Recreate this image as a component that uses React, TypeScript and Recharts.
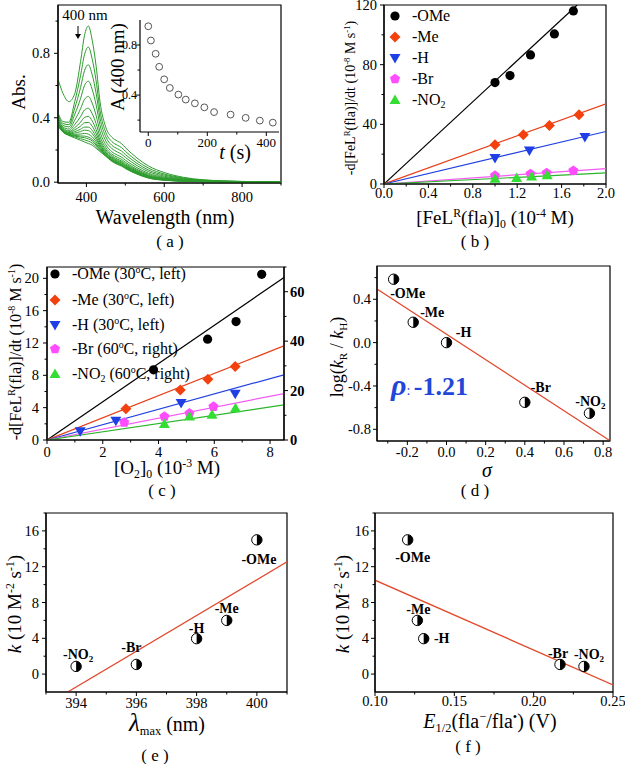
import React from 'react';
import { ComposedChart, Line, Scatter, XAxis, YAxis, ReferenceArea } from 'recharts';

const FONT = '"Liberation Serif", "Times New Roman", Times, serif';
const PAGE_W = 625;
const PAGE_H = 764;
const BAND = 20;
const TICK_FS = 14.5;

// ---------------- (a) spectra ----------------
const wavelengths = [327, 340, 355, 370, 385, 395, 405, 415, 425, 435, 450, 465, 480, 490, 500, 530, 560, 600, 650, 700, 800, 900];
const spec01 = [0.64, 0.55, 0.5, 0.55, 0.75, 0.91, 0.97, 0.88, 0.72, 0.5, 0.34, 0.28, 0.255, 0.24, 0.215, 0.15, 0.1, 0.06, 0.03, 0.015, 0.005, 0];
const spec02 = [0.432, 0.376, 0.372, 0.5, 0.662, 0.791, 0.839, 0.763, 0.628, 0.444, 0.308, 0.253, 0.229, 0.215, 0.192, 0.132, 0.087, 0.051, 0.026, 0.013, 0.004, 0];
const spec03 = [0.417, 0.364, 0.357, 0.459, 0.588, 0.692, 0.729, 0.666, 0.552, 0.398, 0.281, 0.23, 0.207, 0.194, 0.172, 0.117, 0.075, 0.044, 0.022, 0.011, 0.004, 0];
const spec04 = [0.403, 0.352, 0.343, 0.421, 0.52, 0.6, 0.627, 0.575, 0.48, 0.354, 0.255, 0.21, 0.187, 0.174, 0.154, 0.103, 0.065, 0.037, 0.019, 0.009, 0.003, 0];
const spec05 = [0.39, 0.342, 0.33, 0.385, 0.456, 0.514, 0.532, 0.49, 0.414, 0.314, 0.232, 0.19, 0.168, 0.156, 0.137, 0.09, 0.055, 0.031, 0.016, 0.008, 0.003, 0];
const spec06 = [0.38, 0.334, 0.32, 0.358, 0.407, 0.448, 0.459, 0.425, 0.363, 0.283, 0.214, 0.175, 0.154, 0.142, 0.124, 0.08, 0.048, 0.026, 0.013, 0.007, 0.002, 0];
const spec07 = [0.373, 0.328, 0.313, 0.338, 0.373, 0.402, 0.408, 0.38, 0.327, 0.261, 0.201, 0.165, 0.143, 0.132, 0.115, 0.073, 0.042, 0.023, 0.012, 0.006, 0.002, 0];
const spec08 = [0.368, 0.324, 0.308, 0.325, 0.348, 0.369, 0.371, 0.347, 0.302, 0.246, 0.192, 0.157, 0.136, 0.125, 0.108, 0.068, 0.039, 0.021, 0.01, 0.005, 0.002, 0];
const spec09 = [0.364, 0.321, 0.304, 0.314, 0.329, 0.342, 0.342, 0.321, 0.281, 0.233, 0.185, 0.151, 0.13, 0.12, 0.103, 0.064, 0.036, 0.019, 0.009, 0.005, 0.001, 0];
const spec10 = [0.361, 0.319, 0.301, 0.305, 0.314, 0.323, 0.32, 0.302, 0.266, 0.224, 0.18, 0.147, 0.126, 0.115, 0.099, 0.061, 0.033, 0.017, 0.009, 0.004, 0.001, 0];
const spec11 = [0.358, 0.316, 0.298, 0.297, 0.299, 0.303, 0.298, 0.282, 0.251, 0.215, 0.174, 0.142, 0.122, 0.111, 0.095, 0.058, 0.031, 0.016, 0.008, 0.004, 0.001, 0];
const spec12 = [0.356, 0.314, 0.296, 0.29, 0.287, 0.286, 0.28, 0.266, 0.238, 0.207, 0.17, 0.138, 0.118, 0.108, 0.092, 0.056, 0.029, 0.015, 0.007, 0.004, 0.001, 0];
const spec13 = [0.354, 0.313, 0.294, 0.286, 0.28, 0.276, 0.269, 0.256, 0.23, 0.202, 0.167, 0.136, 0.116, 0.106, 0.09, 0.054, 0.028, 0.014, 0.007, 0.003, 0.001, 0];
const spec14 = [0.352, 0.312, 0.292, 0.281, 0.27, 0.263, 0.255, 0.243, 0.22, 0.196, 0.164, 0.133, 0.113, 0.103, 0.088, 0.052, 0.027, 0.013, 0.006, 0.003, 0.001, 0];
const spec15 = [0.35, 0.31, 0.29, 0.275, 0.26, 0.25, 0.24, 0.23, 0.21, 0.19, 0.16, 0.13, 0.11, 0.1, 0.085, 0.05, 0.025, 0.012, 0.006, 0.003, 0.001, 0];
const spectra = [spec01, spec02, spec03, spec04, spec05, spec06, spec07, spec08, spec09, spec10, spec11, spec12, spec13, spec14, spec15];

const insetTime = [0, 9, 25, 37, 54, 73, 102, 127, 158, 190, 223, 279, 330, 378, 422];
const insetAbs = [0.95, 0.836, 0.73, 0.626, 0.526, 0.457, 0.404, 0.364, 0.334, 0.302, 0.264, 0.244, 0.218, 0.196, 0.18];

// ---------------- (b) ----------------
const bConcOMe = [1.0, 1.135, 1.32, 1.535, 1.706];
const bRateOMe = [68, 72.7, 86.5, 100.6, 116];
const bConcMe = [1.0, 1.255, 1.49, 1.757];
const bRateMe = [26.3, 33, 39.3, 46.4];
const bConcH = [1.0, 1.31, 1.81];
const bRateH = [17.4, 22.5, 31.5];
const bConcBr = [1.0, 1.32, 1.465, 1.706];
const bRateBr = [5.6, 6.7, 7.4, 8.9];
const bConcNO2 = [1.0, 1.195, 1.33, 1.47];
const bRateNO2 = [3.6, 4.0, 5.1, 5.8];
const bFitX = [[0, 1.74], [0, 2], [0, 2], [0, 2], [0, 2]];
const bFitY = [[0, 120], [0, 53.8], [0, 35.2], [0, 10.3], [0, 7.4]];

// ---------------- (c) ----------------
const cO2OMe = [3.82, 5.76, 6.78, 7.7];
const cRateOMe = [8.68, 12.47, 14.65, 20.5];
const cO2Me = [2.83, 4.78, 5.77, 6.75];
const cRateMe = [3.87, 6.2, 7.5, 9.1];
const cO2H = [1.19, 2.47, 4.81, 6.75];
const cRateH = [1.07, 2.39, 4.57, 5.72];
const cO2Br = [2.77, 4.21, 5.11, 5.97];
const cRateBr = [7.1, 9.5, 10.8, 13.5];
const cO2NO2 = [4.21, 5.11, 5.92, 6.76];
const cRateNO2 = [6.5, 9.5, 10.2, 12.8];
const cFitX = [[0, 8.5], [0, 8.5], [0, 8.5], [0, 8.5], [0, 8.5]];
const cFitY = [[0, 20.1], [0, 11.65], [0, 8.07], [0, 18.8], [0, 14.2]];

// ---------------- (d) (e) (f) ----------------
const substituents = ['-OMe', '-Me', '-H', '-Br', '-NO2'];
const sigma = [-0.27, -0.17, 0.0, 0.4, 0.73];
const logRatio = [0.585, 0.188, 0.0, -0.551, -0.652];
const dFitX = [-0.355, 0.835];
const dFitY = [0.495, -0.905];
const lambdaMax = [400, 399, 398, 396, 394];
const kValues = [15.0, 6.0, 3.96, 1.08, 0.86];
const eFitX = [393.72, 401];
const eFitY = [-2, 12.54];
const eHalf = [0.1206, 0.1267, 0.1307, 0.2166, 0.2317];
const fFitX = [0.1, 0.25];
const fFitY = [10.49, -1.2];

// ---------------- helpers ----------------
const pts = (xs: number[], ys: number[], names?: string[]) =>
  xs.map((x, i) => ({ x, y: ys[i], name: names ? names[i] : '' }));

type Box = { l: number; r: number; t: number; b: number };
const marginFor = (box: Box, rightAxis = false) => ({
  top: box.t,
  left: box.l - BAND,
  right: PAGE_W - box.r - (rightAxis ? BAND : 0),
  bottom: PAGE_H - box.b - BAND,
});

const near = (a: number, b: number) => Math.abs(a - b) < 1e-9;

function makeTick(side: 'bottom' | 'left' | 'right', majors: number[], fmt: (v: number) => string, gap: number, fs = TICK_FS, bold = false) {
  return (props: any) => {
    const { x, y, payload } = props;
    const v = Number(payload.value);
    const major = majors.some((m) => near(m, v));
    const len = major ? 4 : 2.5;
    const common = { fontSize: fs, fontFamily: FONT, fill: '#000', fontWeight: bold ? 'bold' : 'normal' } as any;
    if (side === 'bottom') {
      return (
        <g>
          <line x1={x} y1={y} x2={x} y2={y + len} stroke="#000" strokeWidth={1} />
          {major && (
            <text x={x} y={y + gap} textAnchor="middle" {...common}>
              {fmt(v)}
            </text>
          )}
        </g>
      );
    }
    if (side === 'left') {
      return (
        <g>
          <line x1={x} y1={y} x2={x - len} y2={y} stroke="#000" strokeWidth={1} />
          {major && (
            <text x={x - gap} y={y + fs * 0.35} textAnchor="end" {...common}>
              {fmt(v)}
            </text>
          )}
        </g>
      );
    }
    return (
      <g>
        <line x1={x} y1={y} x2={x + len} y2={y} stroke="#000" strokeWidth={1} />
        {major && (
          <text x={x + gap} y={y + fs * 0.35} textAnchor="start" {...common}>
            {fmt(v)}
          </text>
        )}
      </g>
    );
  };
}

const f1 = (v: number) => (near(v, 0) ? '0.0' : v.toFixed(1));
const f2 = (v: number) => v.toFixed(2);
const f0 = (v: number) => String(Math.round(v));

type Kind = 'circle' | 'diamond' | 'down' | 'up' | 'pent';
function Marker({ kind, cx, cy, color }: { kind: Kind; cx: number; cy: number; color: string }) {
  if (kind === 'circle') return <circle cx={cx} cy={cy} r={4.6} fill={color} />;
  if (kind === 'diamond')
    return <polygon points={`${cx},${cy - 5.5} ${cx + 5.5},${cy} ${cx},${cy + 5.5} ${cx - 5.5},${cy}`} fill={color} />;
  if (kind === 'down')
    return <polygon points={`${cx - 5.5},${cy - 4} ${cx + 5.5},${cy - 4} ${cx},${cy + 5.5}`} fill={color} />;
  if (kind === 'up')
    return <polygon points={`${cx - 5.5},${cy + 4} ${cx + 5.5},${cy + 4} ${cx},${cy - 5.5}`} fill={color} />;
  const p: string[] = [];
  for (let i = 0; i < 5; i++) {
    const a = -Math.PI / 2 + (i * 2 * Math.PI) / 5;
    p.push(`${cx + 5.3 * Math.cos(a)},${cy + 5.3 * Math.sin(a)}`);
  }
  return <polygon points={p.join(' ')} fill={color} />;
}

const seriesKinds: Kind[] = ['circle', 'diamond', 'down', 'pent', 'up'];
const markerColors = ['#000000', '#f2400f', '#1f3fe6', '#ff4cff', '#33dd33'];
const lineColors = ['#000000', '#e8401a', '#2040e0', '#f25af2', '#2ab52a'];
const FIT_RED = '#e24a2e';

const markerShape = (kind: Kind, color: string) => (p: any) => <Marker kind={kind} cx={p.cx} cy={p.cy} color={color} />;

const openCircle = (p: any) => <circle cx={p.cx} cy={p.cy} r={3.4} fill="none" stroke="#555" strokeWidth={1} />;

function labelText(name: string, x: number, y: number) {
  const isNO2 = name === '-NO2';
  return (
    <text x={x} y={y + 5} textAnchor="middle" fontFamily={FONT} fontWeight="bold" fontSize={14} fill="#000">
      {isNO2 ? '-NO' : name}
      {isNO2 && (
        <tspan dy={3} fontSize={9}>
          2
        </tspan>
      )}
    </text>
  );
}

const halfShape = (offsets: Record<string, [number, number]>) => (p: any) => {
  const { cx, cy, payload } = p;
  const name = payload && payload.name;
  const off = offsets[name] || [0, 0];
  const r = 5.2;
  return (
    <g>
      <circle cx={cx} cy={cy} r={r} fill="#fff" stroke="#000" strokeWidth={1} />
      <path d={`M ${cx} ${cy - r} A ${r} ${r} 0 0 1 ${cx} ${cy + r} Z`} fill="#000" />
      {labelText(name, cx + off[0], cy + off[1])}
    </g>
  );
};

const dOffsets: Record<string, [number, number]> = {
  '-OMe': [14, 14], '-Me': [19, -10], '-H': [17, -11], '-Br': [16, -15], '-NO2': [1, -12],
};
const eOffsets: Record<string, [number, number]> = {
  '-OMe': [2, 19], '-Me': [0, -12], '-H': [0, -11], '-Br': [-5, -17], '-NO2': [2, -12],
};
const fOffsets: Record<string, [number, number]> = {
  '-OMe': [5, 17], '-Me': [1, -11], '-H': [18, -1], '-Br': [-2, -11], '-NO2': [5, -12],
};

const Sup = ({ children }: any) => (
  <span style={{ fontSize: '0.62em', position: 'relative', top: '-0.6em' }}>{children}</span>
);
const Sub = ({ children }: any) => (
  <span style={{ fontSize: '0.62em', position: 'relative', top: '0.35em' }}>{children}</span>
);

function T({ x, y, size = 15, rot = false, style, children }: any) {
  return (
    <div
      style={{
        position: 'absolute',
        left: x,
        top: y,
        transform: `translate(-50%, -50%)${rot ? ' rotate(-90deg)' : ''}`,
        fontSize: size,
        whiteSpace: 'nowrap',
        lineHeight: 1,
        fontFamily: FONT,
        color: '#000',
        ...style,
      }}
    >
      {children}
    </div>
  );
}

const Layer = ({ children }: any) => <div style={{ position: 'absolute', left: 0, top: 0 }}>{children}</div>;

const AXIS_LINE = { stroke: '#000', strokeWidth: 1.2 };

// boxes
const boxA: Box = { l: 58, r: 281, t: 5, b: 183 };
const boxInset: Box = { l: 140, r: 279, t: 20, b: 132 };
const boxB: Box = { l: 384, r: 606, t: 5, b: 184 };
const boxC: Box = { l: 47, r: 284, t: 267, b: 440 };
const boxD: Box = { l: 377, r: 610, t: 266, b: 441 };
const boxE: Box = { l: 46, r: 287, t: 513, b: 692 };
const boxF: Box = { l: 375, r: 613, t: 513, b: 692 };

const legendB = ['-OMe', '-Me', '-H', '-Br', '-NO2'];
const legendBRows = [16, 37, 58, 79, 100];

function LegendRow({ x, y, kind, color, children }: any) {
  return (
    <div style={{ position: 'absolute', left: x - 8, top: y - 10, height: 20, display: 'flex', alignItems: 'center', fontFamily: FONT, fontSize: 16, whiteSpace: 'nowrap' }}>
      <svg width={16} height={16} style={{ display: 'block' }}>
        <Marker kind={kind} cx={8} cy={8} color={color} />
      </svg>
      <span style={{ marginLeft: 9 }}>{children}</span>
    </div>
  );
}

export default function App() {
  const specRows = wavelengths.map((w, i) => {
    const row: any = { x: w };
    spectra.forEach((s, k) => {
      row['s' + k] = s[i];
    });
    return row;
  });
  const insetPts = pts(insetTime, insetAbs);

  const bSeries = [
    pts(bConcOMe, bRateOMe), pts(bConcMe, bRateMe), pts(bConcH, bRateH), pts(bConcBr, bRateBr), pts(bConcNO2, bRateNO2),
  ];
  const cSeries = [
    pts(cO2OMe, cRateOMe), pts(cO2Me, cRateMe), pts(cO2H, cRateH), pts(cO2Br, cRateBr), pts(cO2NO2, cRateNO2),
  ];
  const dPts = pts(sigma, logRatio, substituents);
  const ePts = pts(lambdaMax, kValues, substituents);
  const fPts = pts(eHalf, kValues, substituents);

  return (
    <div style={{ position: 'absolute', left: 0, top: 0, width: PAGE_W, height: PAGE_H, background: '#fff', fontFamily: FONT, overflow: 'hidden' }}>
      {/* (a) main */}
      <Layer>
        <ComposedChart width={PAGE_W} height={PAGE_H} margin={marginFor(boxA)} data={specRows}>
          <XAxis type="number" dataKey="x" domain={[327, 900]} allowDataOverflow ticks={[400, 500, 600, 700, 800, 900]} interval={0}
            height={BAND} tickLine={false} tickSize={0} tickMargin={0} axisLine={AXIS_LINE}
            tick={makeTick('bottom', [400, 600, 800], f0, 19)} />
          <YAxis type="number" domain={[-0.005, 1.1]} allowDataOverflow ticks={[0, 0.2, 0.4, 0.6, 0.8, 1.0]} interval={0}
            width={BAND} tickLine={false} tickSize={0} tickMargin={0} axisLine={AXIS_LINE}
            tick={makeTick('left', [0, 0.4, 0.8], f1, 8)} />
          <ReferenceArea x1={327} x2={900} y1={-0.005} y2={1.1} fill="none" stroke="#000" strokeWidth={1.2} ifOverflow="visible" />
          {spectra.map((_, k) => (
            <Line key={k} type="monotone" dataKey={'s' + k} stroke="#2c9c2c" strokeWidth={1} dot={false} activeDot={false} isAnimationActive={false} />
          ))}
        </ComposedChart>
      </Layer>
      {/* (a) inset */}
      <Layer>
        <ComposedChart width={PAGE_W} height={PAGE_H} margin={marginFor(boxInset)}>
          <XAxis type="number" dataKey="x" domain={[-28, 443]} allowDataOverflow ticks={[0, 100, 200, 300, 400]} interval={0}
            height={BAND} tickLine={false} tickSize={0} tickMargin={0} axisLine={AXIS_LINE}
            tick={makeTick('bottom', [0, 200, 400], f0, 15, 13)} />
          <YAxis type="number" dataKey="y" domain={[0.105, 1.0]} allowDataOverflow ticks={[0.2, 0.4, 0.6, 0.8]} interval={0}
            width={BAND} tickLine={false} tickSize={0} tickMargin={0} axisLine={AXIS_LINE}
            tick={makeTick('left', [0.4, 0.8], f1, 3, 12)} />
          <Scatter data={insetPts} dataKey="y" shape={openCircle} isAnimationActive={false} />
        </ComposedChart>
      </Layer>

      {/* (b) */}
      <Layer>
        <ComposedChart width={PAGE_W} height={PAGE_H} margin={marginFor(boxB)}>
          <XAxis type="number" dataKey="x" domain={[0, 2]} allowDataOverflow ticks={[0, 0.2, 0.4, 0.6, 0.8, 1.0, 1.2, 1.4, 1.6, 1.8, 2.0]} interval={0}
            height={BAND} tickLine={false} tickSize={0} tickMargin={0} axisLine={AXIS_LINE}
            tick={makeTick('bottom', [0, 0.4, 0.8, 1.2, 1.6, 2.0], f1, 14)} />
          <YAxis type="number" dataKey="y" domain={[0, 120]} allowDataOverflow ticks={[0, 20, 40, 60, 80, 100, 120]} interval={0}
            width={BAND} tickLine={false} tickSize={0} tickMargin={0} axisLine={AXIS_LINE}
            tick={makeTick('left', [0, 40, 80, 120], f0, 7)} />
          <ReferenceArea x1={0} x2={2} y1={0} y2={120} fill="none" stroke="#000" strokeWidth={1.2} ifOverflow="visible" />
          {bFitX.map((fx, k) => (
            <Line key={'bf' + k} data={pts(fx, bFitY[k])} dataKey="y" stroke={lineColors[k]} strokeWidth={1.2} dot={false} activeDot={false} isAnimationActive={false} />
          ))}
          {bSeries.map((s, k) => (
            <Scatter key={'bs' + k} data={s} dataKey="y" shape={markerShape(seriesKinds[k], markerColors[k])} isAnimationActive={false} />
          ))}
        </ComposedChart>
      </Layer>

      {/* (c) */}
      <Layer>
        <ComposedChart width={PAGE_W} height={PAGE_H} margin={marginFor(boxC, true)}>
          <XAxis type="number" dataKey="x" domain={[0, 8.5]} allowDataOverflow ticks={[0, 1, 2, 3, 4, 5, 6, 7, 8]} interval={0}
            height={BAND} tickLine={false} tickSize={0} tickMargin={0} axisLine={AXIS_LINE}
            tick={makeTick('bottom', [0, 2, 4, 6, 8], f0, 17)} />
          <YAxis yAxisId="left" type="number" dataKey="y" domain={[0, 21.4]} allowDataOverflow ticks={[0, 2, 4, 6, 8, 10, 12, 14, 16, 18, 20]} interval={0}
            width={BAND} tickLine={false} tickSize={0} tickMargin={0} axisLine={AXIS_LINE}
            tick={makeTick('left', [0, 4, 8, 12, 16, 20], f0, 8)} />
          <YAxis yAxisId="right" orientation="right" type="number" dataKey="y" domain={[0, 70]} allowDataOverflow ticks={[0, 10, 20, 30, 40, 50, 60, 70]} interval={0}
            width={BAND} tickLine={false} tickSize={0} tickMargin={0} axisLine={AXIS_LINE}
            tick={makeTick('right', [0, 20, 40, 60], f0, 6, TICK_FS, true)} />
          <ReferenceArea yAxisId="left" x1={0} x2={8.5} y1={0} y2={21.4} fill="none" stroke="#000" strokeWidth={1.2} ifOverflow="visible" />
          {cFitX.map((fx, k) => (
            <Line key={'cf' + k} yAxisId={k >= 3 ? 'right' : 'left'} data={pts(fx, cFitY[k])} dataKey="y" stroke={lineColors[k]} strokeWidth={1.2} dot={false} activeDot={false} isAnimationActive={false} />
          ))}
          {cSeries.map((s, k) => (
            <Scatter key={'cs' + k} yAxisId={k >= 3 ? 'right' : 'left'} data={s} dataKey="y" shape={markerShape(seriesKinds[k], markerColors[k])} isAnimationActive={false} />
          ))}
        </ComposedChart>
      </Layer>

      {/* (d) */}
      <Layer>
        <ComposedChart width={PAGE_W} height={PAGE_H} margin={marginFor(boxD)}>
          <XAxis type="number" dataKey="x" domain={[-0.355, 0.835]} allowDataOverflow ticks={[-0.3, -0.2, -0.1, 0, 0.1, 0.2, 0.3, 0.4, 0.5, 0.6, 0.7, 0.8]} interval={0}
            height={BAND} tickLine={false} tickSize={0} tickMargin={0} axisLine={AXIS_LINE}
            tick={makeTick('bottom', [-0.2, 0, 0.2, 0.4, 0.6, 0.8], f1, 16)} />
          <YAxis type="number" dataKey="y" domain={[-0.908, 0.707]} allowDataOverflow ticks={[-0.8, -0.6, -0.4, -0.2, 0, 0.2, 0.4, 0.6]} interval={0}
            width={BAND} tickLine={false} tickSize={0} tickMargin={0} axisLine={AXIS_LINE}
            tick={makeTick('left', [-0.8, -0.4, 0, 0.4], f1, 6)} />
          <ReferenceArea x1={-0.355} x2={0.835} y1={-0.908} y2={0.707} fill="none" stroke="#000" strokeWidth={1.2} ifOverflow="visible" />
          <Line data={pts(dFitX, dFitY)} dataKey="y" stroke={FIT_RED} strokeWidth={1.3} dot={false} activeDot={false} isAnimationActive={false} />
          <Scatter data={dPts} dataKey="y" shape={halfShape(dOffsets)} isAnimationActive={false} />
        </ComposedChart>
      </Layer>

      {/* (e) */}
      <Layer>
        <ComposedChart width={PAGE_W} height={PAGE_H} margin={marginFor(boxE)}>
          <XAxis type="number" dataKey="x" domain={[393, 401]} allowDataOverflow ticks={[393, 394, 395, 396, 397, 398, 399, 400, 401]} interval={0}
            height={BAND} tickLine={false} tickSize={0} tickMargin={0} axisLine={AXIS_LINE}
            tick={makeTick('bottom', [394, 396, 398, 400], f0, 16)} />
          <YAxis type="number" dataKey="y" domain={[-2, 18]} allowDataOverflow ticks={[0, 2, 4, 6, 8, 10, 12, 14, 16, 18]} interval={0}
            width={BAND} tickLine={false} tickSize={0} tickMargin={0} axisLine={AXIS_LINE}
            tick={makeTick('left', [0, 4, 8, 12, 16], f0, 7)} />
          <ReferenceArea x1={393} x2={401} y1={-2} y2={18} fill="none" stroke="#000" strokeWidth={1.2} ifOverflow="visible" />
          <Line data={pts(eFitX, eFitY)} dataKey="y" stroke={FIT_RED} strokeWidth={1.3} dot={false} activeDot={false} isAnimationActive={false} />
          <Scatter data={ePts} dataKey="y" shape={halfShape(eOffsets)} isAnimationActive={false} />
        </ComposedChart>
      </Layer>

      {/* (f) */}
      <Layer>
        <ComposedChart width={PAGE_W} height={PAGE_H} margin={marginFor(boxF)}>
          <XAxis type="number" dataKey="x" domain={[0.1, 0.25]} allowDataOverflow ticks={[0.1, 0.125, 0.15, 0.175, 0.2, 0.225, 0.25]} interval={0}
            height={BAND} tickLine={false} tickSize={0} tickMargin={0} axisLine={AXIS_LINE}
            tick={makeTick('bottom', [0.1, 0.15, 0.2, 0.25], f2, 14)} />
          <YAxis type="number" dataKey="y" domain={[-2, 18]} allowDataOverflow ticks={[0, 2, 4, 6, 8, 10, 12, 14, 16, 18]} interval={0}
            width={BAND} tickLine={false} tickSize={0} tickMargin={0} axisLine={AXIS_LINE}
            tick={makeTick('left', [0, 4, 8, 12, 16], f0, 6)} />
          <ReferenceArea x1={0.1} x2={0.25} y1={-2} y2={18} fill="none" stroke="#000" strokeWidth={1.2} ifOverflow="visible" />
          <Line data={pts(fFitX, fFitY)} dataKey="y" stroke={FIT_RED} strokeWidth={1.3} dot={false} activeDot={false} isAnimationActive={false} />
          <Scatter data={fPts} dataKey="y" shape={halfShape(fOffsets)} isAnimationActive={false} />
        </ComposedChart>
      </Layer>

      {/* ---- text overlays ---- */}
      {/* (a) */}
      <T x={18} y={92} size={19} rot>Abs.</T>
      <T x={165} y={217} size={20}>Wavelength (nm)</T>
      <T x={170} y={241} size={17}>( a )</T>
      <T x={85} y={15} size={15}>400 nm</T>
      <svg style={{ position: 'absolute', left: 72, top: 25 }} width={12} height={16}>
        <line x1={6} y1={1} x2={6} y2={12} stroke="#000" strokeWidth={1} />
        <polygon points="3,9 9,9 6,14" fill="#000" />
      </svg>
      <T x={117} y={67} size={19} rot>A (400 nm)</T>
      <T x={235} y={152} size={20}><i>t</i> (s)</T>

      {/* (b) */}
      <T x={351} y={98} size={14} rot>-d[FeL<Sup>R</Sup>(fla)]/dt (10<Sup>-8</Sup> M s<Sup>-1</Sup>)</T>
      <T x={495} y={217} size={19}>[FeL<Sup>R</Sup>(fla)]<Sub>0</Sub> (10<Sup>-4</Sup> M)</T>
      <T x={475} y={241} size={17}>( b )</T>
      {legendB.map((n, k) => (
        <LegendRow key={'lb' + k} x={395} y={legendBRows[k]} kind={seriesKinds[k]} color={markerColors[k]}>
          {n === '-NO2' ? (<span>-NO<Sub>2</Sub></span>) : n}
        </LegendRow>
      ))}

      {/* (c) */}
      <T x={16} y={352} size={16} rot>-d[FeL<Sup>R</Sup>(fla)]/dt (10<Sup>-8</Sup> M s<Sup>-1</Sup>)</T>
      <T x={167} y={467} size={19}>[O<Sub>2</Sub>]<Sub>0</Sub> (10<Sup>-3</Sup> M)</T>
      <T x={162} y={490} size={17}>( c )</T>
      <LegendRow x={55} y={274} kind="circle" color={markerColors[0]}>-OMe (30<Sup>o</Sup>C, left)</LegendRow>
      <LegendRow x={55} y={300} kind="diamond" color={markerColors[1]}>-Me (30<Sup>o</Sup>C, left)</LegendRow>
      <LegendRow x={55} y={325} kind="down" color={markerColors[2]}>-H (30<Sup>o</Sup>C, left)</LegendRow>
      <LegendRow x={55} y={349} kind="pent" color={markerColors[3]}>-Br (60<Sup>o</Sup>C, right)</LegendRow>
      <LegendRow x={55} y={374} kind="up" color={markerColors[4]}>-NO<Sub>2</Sub> (60<Sup>o</Sup>C, right)</LegendRow>

      {/* (d) */}
      <T x={337} y={357} size={18} rot>log(<i>k</i><Sub>R</Sub> / <i>k</i><Sub>H</Sub>)</T>
      <T x={487} y={470} size={20}><i>σ</i></T>
      <div style={{ position: 'absolute', left: 391, top: 385, transform: 'translateY(-50%)', color: '#2147d8', fontFamily: FONT, whiteSpace: 'nowrap', lineHeight: 1 }}>
        <i style={{ fontSize: 30, fontWeight: 'bold' }}>ρ</i>
        <span style={{ fontSize: 14 }}>: </span>
        <b style={{ fontSize: 26 }}>-1.21</b>
      </div>
      <T x={475} y={490} size={17}>( d )</T>

      {/* (e) */}
      <T x={14} y={604} size={19} rot><i>k</i> (10 M<Sup>-2</Sup> s<Sup>-1</Sup>)</T>
      <T x={167} y={722} size={20}><i style={{ fontSize: 25 }}>λ</i><Sub>max</Sub> (nm)</T>
      <T x={155} y={755} size={17}>( e )</T>

      {/* (f) */}
      <T x={342} y={604} size={19} rot><i>k</i> (10 M<Sup>-2</Sup> s<Sup>-1</Sup>)</T>
      <T x={490} y={721} size={20}><i>E</i><Sub>1/2</Sub>(fla<Sup>−</Sup>/fla<Sup>•</Sup>) (V)</T>
      <T x={468} y={746} size={17}>( f )</T>
    </div>
  );
}
